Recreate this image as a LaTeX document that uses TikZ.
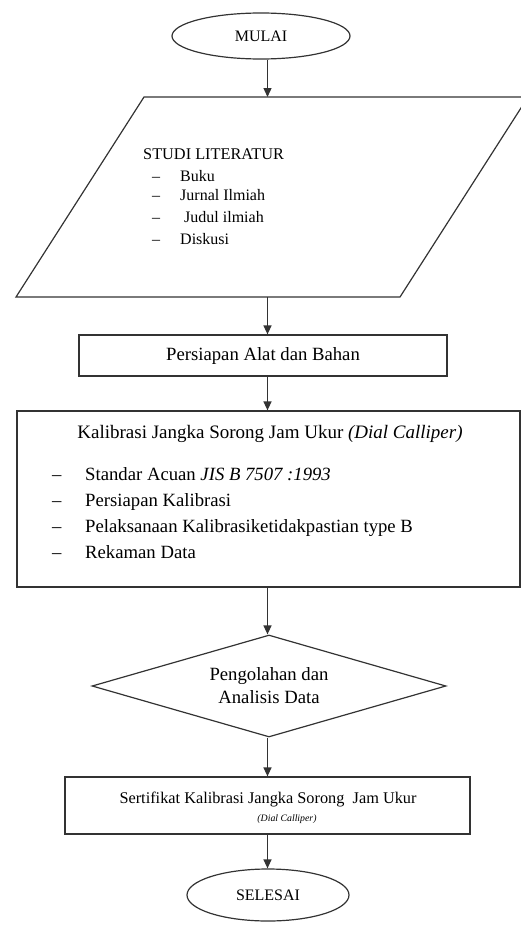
\documentclass[tikz,border=0pt]{standalone}
\usepackage{fontspec}
\setmainfont{Liberation Serif}
\usetikzlibrary{shapes.geometric,arrows.meta}
\begin{document}
\begin{tikzpicture}[x=1pt,y=-1pt,
  shp/.style={draw=black!80, line width=1.2pt, inner sep=0pt, text=black},
  flow/.style={draw=black!80, line width=1.3pt, -{Triangle[length=9pt,width=8pt]}},
  txt/.style={inner sep=0pt, anchor=base west, text=black}
]
\useasboundingbox (0,0) rectangle (521,926);
\coordinate (axis) at (267.5,0);

% terminals
\node[shp, ellipse, minimum width=178pt, minimum height=46pt, font=\fontsize{16}{19}\selectfont] (mulai) at (261,36) {MULAI};
\node[shp, ellipse, minimum width=162pt, minimum height=52pt, font=\fontsize{16}{19}\selectfont] (selesai) at (268,895) {SELESAI};

% parallelogram (input/output)
\coordinate (ptl) at (144,97);
\coordinate (ptr) at (528,97);
\coordinate (pbr) at (400,297);
\coordinate (pbl) at (16,297);
\coordinate (ptop) at (267.5,97);
\coordinate (pbot) at (267.5,297);
\draw[draw=black!80, line width=1.2pt, line join=miter] (ptl) -- (ptr) -- (pbr) -- (pbl) -- cycle;
\node[txt, font=\fontsize{16.3}{19}\selectfont] (st0) at (143,159) {STUDI LITERATUR};
\node[txt, font=\fontsize{16}{19}\selectfont] (sd1) at (152,181) {–};
\node[txt, font=\fontsize{16}{19}\selectfont] (st1) at (180,181) {Buku};
\node[txt, font=\fontsize{16}{19}\selectfont] (sd2) at (152,200) {–};
\node[txt, font=\fontsize{16}{19}\selectfont] (st2) at (180,200) {Jurnal Ilmiah};
\node[txt, font=\fontsize{16}{19}\selectfont] (sd3) at (152,222) {–};
\node[txt, font=\fontsize{16}{19}\selectfont] (st3) at (184,222) {Judul ilmiah};
\node[txt, font=\fontsize{16}{19}\selectfont] (sd4) at (152,244) {–};
\node[txt, font=\fontsize{16}{19}\selectfont] (st4) at (180,244) {Diskusi};

% persiapan
\node[shp, rectangle, minimum width=368pt, minimum height=41pt, font=\fontsize{18.7}{22}\selectfont] (alat) at (263,355.5) {Persiapan Alat dan Bahan};

% kalibrasi
\node[shp, rectangle, minimum width=503pt, minimum height=176pt] (kal) at (268.5,499) {};
\node[inner sep=0pt, anchor=base, text=black, font=\fontsize{19}{22}\selectfont] (kt) at (270,438) {Kalibrasi Jangka Sorong Jam Ukur \textit{(Dial Calliper)}};
\node[txt, font=\fontsize{18.7}{22}\selectfont] (kd1) at (52,480) {–};
\node[txt, font=\fontsize{18.7}{22}\selectfont] (k1) at (85,480) {Standar Acuan \textit{JIS B 7507 :1993}};
\node[txt, font=\fontsize{18.7}{22}\selectfont] (kd2) at (52,506) {–};
\node[txt, font=\fontsize{18.7}{22}\selectfont] (k2) at (85,506) {Persiapan Kalibrasi};
\node[txt, font=\fontsize{18.7}{22}\selectfont] (kd3) at (52,532) {–};
\node[txt, font=\fontsize{18.7}{22}\selectfont] (k3) at (85,532) {Pelaksanaan Kalibrasiketidakpastian type B};
\node[txt, font=\fontsize{18.7}{22}\selectfont] (kd4) at (52,558) {–};
\node[txt, font=\fontsize{18.7}{22}\selectfont] (k4) at (85,558) {Rekaman Data};

% decision
\node[shp, diamond, aspect=3.5, minimum width=354pt, minimum height=102pt, align=center, font=\fontsize{18.7}{23}\selectfont] (olah) at (269,686) {Pengolahan dan\\Analisis Data};

% sertifikat
\node[shp, rectangle, minimum width=405pt, minimum height=57pt] (sert) at (267.5,805.5) {};
\node[inner sep=0pt, anchor=base, text=black, font=\fontsize{16.3}{19}\selectfont] (s1) at (268,803) {Sertifikat Kalibrasi Jangka Sorong\ \ Jam Ukur};
\node[inner sep=0pt, anchor=base, text=black, font=\fontsize{9.8}{12}\selectfont] (s2) at (287,821) {\textit{(Dial Calliper)}};

% connectors
\draw[flow] (mulai.south -| axis) -- (ptop);
\draw[flow] (pbot) -- (alat.north -| axis);
\draw[flow] (alat.south -| axis) -- (kal.north -| axis);
\draw[flow] (kal.south -| axis) -- (olah.north -| axis);
\draw[flow] (olah.south -| axis) -- (sert.north -| axis);
\draw[flow] (sert.south -| axis) -- (selesai.north -| axis);
\end{tikzpicture}
\end{document}
